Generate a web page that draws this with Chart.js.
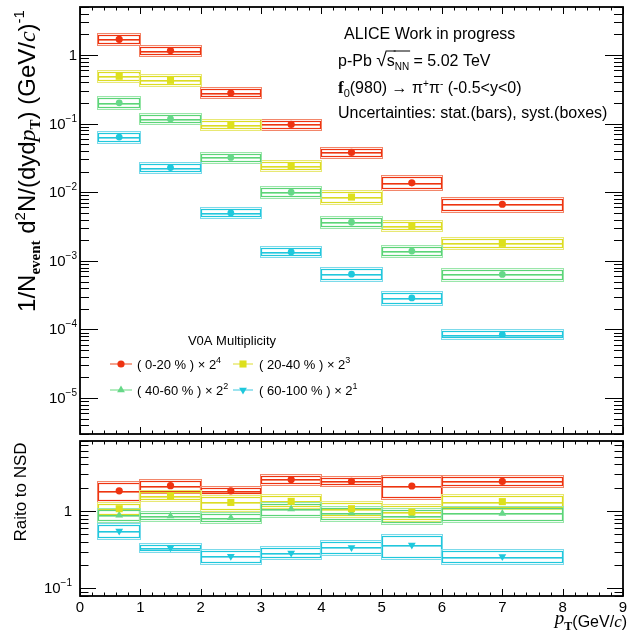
<!DOCTYPE html>
<html>
<head>
<meta charset="utf-8">
<script src="https://cdn.jsdelivr.net/npm/chart.js@4/dist/chart.umd.min.js"></script>
<style>
  body { margin: 0; background: #fff; }
  #wrap { position: relative; width: 628px; height: 632px; }
  .pane { position: absolute; left: 0; width: 628px; }
  #topPane { top: 0; height: 440px; }
  #botPane { top: 436px; height: 196px; }
</style>
</head>
<body>
<div id="wrap">
  <div class="pane" id="topPane"><canvas id="spectraChart"></canvas></div>
  <div class="pane" id="botPane"><canvas id="ratioChart"></canvas></div>
</div>
<script>
// pT bins (GeV/c)
var binLow = [0.3, 1, 2, 3, 4, 5, 6];
var binHigh = [1, 2, 3, 4, 5, 6, 8];
var ptCenter = [0.65, 1.5, 2.5, 3.5, 4.5, 5.5, 7];

// multiplicity classes and the 2^n scale applied to each spectrum
var classNames = ['( 0-20 % ) \u00d7 2', '( 20-40 % ) \u00d7 2', '( 40-60 % ) \u00d7 2', '( 60-100 % ) \u00d7 2'];
var classScaleExp = ['4', '3', '2', '1'];

// scaled yields
var yield0020 = [1.69, 1.16, 0.279, 0.0973, 0.038, 0.0137, 0.00668];
var yield2040 = [0.489, 0.427, 0.096, 0.0245, 0.0085, 0.00326, 0.0018];
var yield4060 = [0.201, 0.117, 0.0321, 0.0100, 0.00365, 0.00139, 0.000635];
var yield60100 = [0.0636, 0.0229, 0.00499, 0.00135, 0.00064, 0.000288, 0.000084];

// relative systematic uncertainties on the yields
var syst0020 = [0.14, 0.13, 0.13, 0.13, 0.14, 0.20, 0.21];
var syst2040 = [0.15, 0.14, 0.13, 0.14, 0.17, 0.14, 0.14];
var syst4060 = [0.155, 0.14, 0.14, 0.15, 0.16, 0.15, 0.17];
var syst60100 = [0.14, 0.14, 0.14, 0.14, 0.19, 0.18, 0.12];

// ratio to NSD
var ratio0020 = [1.82, 2.12, 1.82, 2.55, 2.41, 2.10, 2.41];
var ratio2040 = [1.07, 1.57, 1.29, 1.33, 1.07, 0.97, 1.32];
var ratio4060 = [0.88, 0.86, 0.82, 1.06, 0.94, 0.87, 0.93];
var ratio60100 = [0.552, 0.336, 0.26, 0.287, 0.339, 0.363, 0.258];

var ratioSyst0020 = [0.25, 0.165, 0.092, 0.115, 0.108, 0.30, 0.14];
var ratioSyst2040 = [0.158, 0.108, 0.192, 0.158, 0.192, 0.21, 0.168];
var ratioSyst4060 = [0.168, 0.10, 0.118, 0.175, 0.175, 0.185, 0.192];
var ratioSyst60100 = [0.18, 0.085, 0.168, 0.15, 0.175, 0.31, 0.168];

// axis ranges and labelled decades
var xRange = [0, 9];
var spectraRange = [3e-6, 5];
var ratioRange = [0.08, 8];
var spectraDecades = [-5, -4, -3, -2, -1, 0];
var ratioDecades = [-1, 0];
var xTickLabels = ['0', '1', '2', '3', '4', '5', '6', '7', '8', '9'];

var colors = [
  { mark: '#ee3311', line: '#ee3311', light: '#f2866a' },
  { mark: '#dde01c', line: '#dcdc24', light: '#e8e874' },
  { mark: '#66d888', line: '#5cd478', light: '#9ae6aa' },
  { mark: '#1ec8dc', line: '#20c8dc', light: '#7cdaea' }
];

var SANS = "'Liberation Sans', Arial, sans-serif";
var SERIF = "'Liberation Serif', 'Times New Roman', serif";
function fnt(size, fam, style) { return (style ? style + ' ' : '') + size + 'px ' + fam; }

function richWidth(ctx, parts) {
  var w = 0;
  parts.forEach(function(p) { ctx.font = p.f; w += ctx.measureText(p.t).width; });
  return w;
}

// draws a run of text pieces with their own fonts and vertical offsets
function drawRich(ctx, parts, x, y, align) {
  var w = richWidth(ctx, parts);
  var cx = align === 'right' ? x - w : (align === 'center' ? x - w / 2 : x);
  ctx.textAlign = 'left';
  ctx.textBaseline = 'alphabetic';
  parts.forEach(function(p) {
    ctx.font = p.f;
    var pw = ctx.measureText(p.t).width;
    ctx.fillText(p.t, cx, y + (p.dy || 0));
    if (p.over) {
      ctx.save();
      ctx.lineWidth = 1;
      ctx.strokeStyle = ctx.fillStyle;
      ctx.beginPath();
      ctx.moveTo(cx - 1, y - p.over);
      ctx.lineTo(cx + pw + 1, y - p.over);
      ctx.stroke();
      ctx.restore();
    }
    cx += pw;
  });
}

function seg(ctx, x1, y1, x2, y2) {
  ctx.beginPath();
  ctx.moveTo(x1, y1);
  ctx.lineTo(x2, y2);
  ctx.stroke();
}

// systematic boxes and bin-width bars, drawn behind the markers
var boxPlugin = {
  id: 'systBoxes',
  beforeDatasetsDraw: function(chart) {
    var ctx = chart.ctx, a = chart.chartArea;
    var xs = chart.scales.x, ys = chart.scales.y;
    ctx.save();
    ctx.beginPath();
    ctx.rect(a.left, a.top, a.right - a.left, a.bottom - a.top);
    ctx.clip();
    chart.data.datasets.forEach(function(ds) {
      ds.data.forEach(function(pt, i) {
        var x1 = Math.round(xs.getPixelForValue(binLow[i]));
        var x2 = Math.round(xs.getPixelForValue(binHigh[i]));
        var yc = Math.round(ys.getPixelForValue(pt.y));
        var yt = Math.round(ys.getPixelForValue(pt.y * (1 + ds.syst[i])));
        var yb = Math.round(ys.getPixelForValue(pt.y * (1 - ds.syst[i])));
        ctx.lineWidth = 1;
        ctx.strokeStyle = ds.lightColor;
        ctx.strokeRect(x1 - 0.5, yt - 1.5, x2 - x1 + 1, yb - yt + 3);
        seg(ctx, x1, yc + 1.5, x2, yc + 1.5);
        ctx.lineWidth = 1.2;
        ctx.strokeStyle = ds.lineColor;
        ctx.strokeRect(x1 + 0.5, yt + 0.5, x2 - x1 - 1, yb - yt - 1);
        seg(ctx, x1, yc + 0.5, x2, yc + 0.5);
      });
    });
    ctx.restore();
  }
};

// ROOT-style frame with inward ticks on all four sides
function drawFrame(chart, opt) {
  var ctx = chart.ctx, a = chart.chartArea;
  var xs = chart.scales.x, ys = chart.scales.y;
  ctx.save();
  ctx.strokeStyle = '#000';
  ctx.fillStyle = '#000';
  ctx.lineWidth = 1;
  for (var i = 0; i <= 45; i++) {
    var px = Math.round(xs.getPixelForValue(i * 0.2)) + 0.5;
    var len = (i % 5 === 0) ? opt.xMajor : opt.xMinor;
    seg(ctx, px, a.bottom, px, a.bottom - len);
    seg(ctx, px, a.top, px, a.top + len);
  }
  var dLo = Math.floor(Math.log10(ys.min)), dHi = Math.ceil(Math.log10(ys.max));
  for (var d = dLo; d <= dHi; d++) {
    for (var k = 1; k <= 9; k++) {
      var v = k * Math.pow(10, d);
      if (v < ys.min * 0.999 || v > ys.max * 1.001) continue;
      var py = Math.round(ys.getPixelForValue(v)) + 0.5;
      var l = (k === 1) ? opt.yMajor : opt.yMinor;
      seg(ctx, a.left, py, a.left + l, py);
      seg(ctx, a.right, py, a.right - l, py);
    }
  }
  ctx.lineWidth = 1.8;
  ctx.strokeRect(a.left, a.top, a.right - a.left, a.bottom - a.top);

  // decade labels on the y axis
  opt.decades.forEach(function(e) {
    var py = ys.getPixelForValue(Math.pow(10, e));
    var parts = e === 0 ? [{ t: '1', f: fnt(15, SANS) }]
      : [{ t: '10', f: fnt(15, SANS) }, { t: '\u2212' + (-e), f: fnt(10, SANS), dy: -7 }];
    drawRich(ctx, parts, opt.labelRight, py + 5, 'right');
  });
  ctx.restore();
}

function yieldDataset(vals, syst, c, style, rot, radius) {
  return {
    data: vals.map(function(v, i) { return { x: ptCenter[i], y: v }; }),
    syst: syst,
    lineColor: colors[c].line,
    lightColor: colors[c].light,
    pointStyle: style,
    pointRotation: rot,
    pointRadius: radius,
    backgroundColor: colors[c].mark,
    borderColor: colors[c].mark,
    borderWidth: 0
  };
}

var topDecor = {
  id: 'topDecor',
  afterDraw: function(chart) {
    drawFrame(chart, { xMajor: 7, xMinor: 3.5, yMajor: 18, yMinor: 9, decades: spectraDecades, labelRight: 77 });
    var ctx = chart.ctx;
    ctx.save();
    ctx.fillStyle = '#000';

    // y axis title
    ctx.save();
    ctx.translate(35, 161);
    ctx.rotate(-Math.PI / 2);
    drawRich(ctx, [
      { t: '1/N', f: fnt(24, SANS) },
      { t: 'event', f: fnt(15, SERIF, 'bold'), dy: 5 },
      { t: ' d', f: fnt(24, SANS) },
      { t: '2', f: fnt(15, SANS), dy: -10 },
      { t: 'N/(dyd', f: fnt(24, SANS) },
      { t: 'p', f: fnt(24, SERIF, 'italic') },
      { t: 'T', f: fnt(15, SERIF, 'bold'), dy: 5 },
      { t: ') (GeV/', f: fnt(24, SANS) },
      { t: 'c', f: fnt(24, SERIF, 'italic') },
      { t: ')', f: fnt(24, SANS) },
      { t: '-1', f: fnt(15, SANS), dy: -11 }
    ], 0, 0, 'center');
    ctx.restore();

    // collision system and analysis text
    drawRich(ctx, [{ t: 'ALICE Work in progress', f: fnt(16, SANS) }], 344, 39, 'left');
    drawRich(ctx, [
      { t: 'p-Pb ', f: fnt(16, SANS) },
      { t: '\u221a', f: fnt(19, SANS) },
      { t: 's', f: fnt(16, SANS), over: 15 },
      { t: 'NN', f: fnt(10, SANS), dy: 4, over: 15 },
      { t: ' = 5.02 TeV', f: fnt(16, SANS) }
    ], 338, 66, 'left');
    drawRich(ctx, [
      { t: 'f', f: fnt(17, SERIF, 'bold') },
      { t: '0', f: fnt(11, SANS), dy: 4 },
      { t: '(980) \u2192 \u03c0', f: fnt(16, SANS) },
      { t: '+', f: fnt(10, SANS), dy: -6 },
      { t: '\u03c0', f: fnt(16, SANS) },
      { t: '-', f: fnt(10, SANS), dy: -6 },
      { t: ' (-0.5<y<0)', f: fnt(16, SANS) }
    ], 338, 93, 'left');
    drawRich(ctx, [{ t: 'Uncertainties: stat.(bars), syst.(boxes)', f: fnt(16, SANS) }], 338, 118, 'left');

    // legend
    drawRich(ctx, [{ t: 'V0A Multiplicity', f: fnt(13, SANS) }], 232, 345, 'center');
    var slots = [
      { lx: 110, mx: 121, rx: 132, tx: 137, y: 364 },
      { lx: 233, mx: 243, rx: 253, tx: 259, y: 364 },
      { lx: 110, mx: 121, rx: 132, tx: 137, y: 390 },
      { lx: 233, mx: 243, rx: 253, tx: 259, y: 390 }
    ];
    var markers = [['circle', 0, 3.6], ['rect', 0, 5], ['triangle', 0, 4.5], ['triangle', 180, 4.5]];
    slots.forEach(function(s, i) {
      ctx.strokeStyle = colors[i].light;
      ctx.lineWidth = 1.5;
      seg(ctx, s.lx, s.y, s.rx, s.y);
      ctx.fillStyle = colors[i].mark;
      ctx.strokeStyle = colors[i].mark;
      Chart.helpers.drawPoint(ctx, { pointStyle: markers[i][0], rotation: markers[i][1], radius: markers[i][2], borderWidth: 0 }, s.mx, s.y);
      ctx.fillStyle = '#000';
      drawRich(ctx, [
        { t: classNames[i], f: fnt(13, SANS) },
        { t: classScaleExp[i], f: fnt(9, SANS), dy: -6 }
      ], s.tx, s.y + 5, 'left');
    });
    ctx.restore();
  }
};

var botDecor = {
  id: 'botDecor',
  afterDraw: function(chart) {
    drawFrame(chart, { xMajor: 7, xMinor: 3.5, yMajor: 16, yMinor: 8.5, decades: ratioDecades, labelRight: 72 });
    var ctx = chart.ctx, xs = chart.scales.x, a = chart.chartArea;
    ctx.save();
    ctx.fillStyle = '#000';
    xTickLabels.forEach(function(lbl, i) {
      drawRich(ctx, [{ t: lbl, f: fnt(15, SANS) }], xs.getPixelForValue(i), a.bottom + 16, 'center');
    });
    drawRich(ctx, [
      { t: 'p', f: fnt(19, SERIF, 'italic'), dy: -3 },
      { t: 'T', f: fnt(12, SERIF, 'bold'), dy: 3 },
      { t: '(GeV/', f: fnt(16, SANS) },
      { t: 'c', f: fnt(17, SERIF, 'italic') },
      { t: ')', f: fnt(16, SANS) }
    ], 627, 191, 'right');
    ctx.save();
    ctx.translate(26, 56);
    ctx.rotate(-Math.PI / 2);
    drawRich(ctx, [{ t: 'Raito to NSD', f: fnt(17, SANS) }], 0, 0, 'center');
    ctx.restore();
    ctx.restore();
  }
};

function hiddenScales(yr) {
  return {
    x: { type: 'linear', min: xRange[0], max: xRange[1], display: false },
    y: { type: 'logarithmic', min: yr[0], max: yr[1], display: false }
  };
}

var baseOptions = function(pad, yr) {
  return {
    responsive: true,
    maintainAspectRatio: false,
    animation: false,
    events: [],
    layout: { padding: pad },
    scales: hiddenScales(yr),
    plugins: { legend: { display: false }, tooltip: { enabled: false } }
  };
};

new Chart(document.getElementById('spectraChart'), {
  type: 'scatter',
  data: {
    datasets: [
      yieldDataset(yield0020, syst0020, 0, 'circle', 0, 3.6),
      yieldDataset(yield2040, syst2040, 1, 'rect', 0, 5),
      yieldDataset(yield4060, syst4060, 2, 'circle', 0, 3.4),
      yieldDataset(yield60100, syst60100, 3, 'circle', 0, 3.4)
    ]
  },
  options: baseOptions({ left: 80, right: 4, top: 7, bottom: 6 }, spectraRange),
  plugins: [boxPlugin, topDecor]
});

new Chart(document.getElementById('ratioChart'), {
  type: 'scatter',
  data: {
    datasets: [
      yieldDataset(ratio0020, ratioSyst0020, 0, 'circle', 0, 3.6),
      yieldDataset(ratio2040, ratioSyst2040, 1, 'rect', 0, 5),
      yieldDataset(ratio4060, ratioSyst4060, 2, 'triangle', 0, 4.5),
      yieldDataset(ratio60100, ratioSyst60100, 3, 'triangle', 180, 4.5)
    ]
  },
  options: baseOptions({ left: 80, right: 4, top: 3, bottom: 36 }, ratioRange),
  plugins: [boxPlugin, botDecor]
});
</script>
</body>
</html>
